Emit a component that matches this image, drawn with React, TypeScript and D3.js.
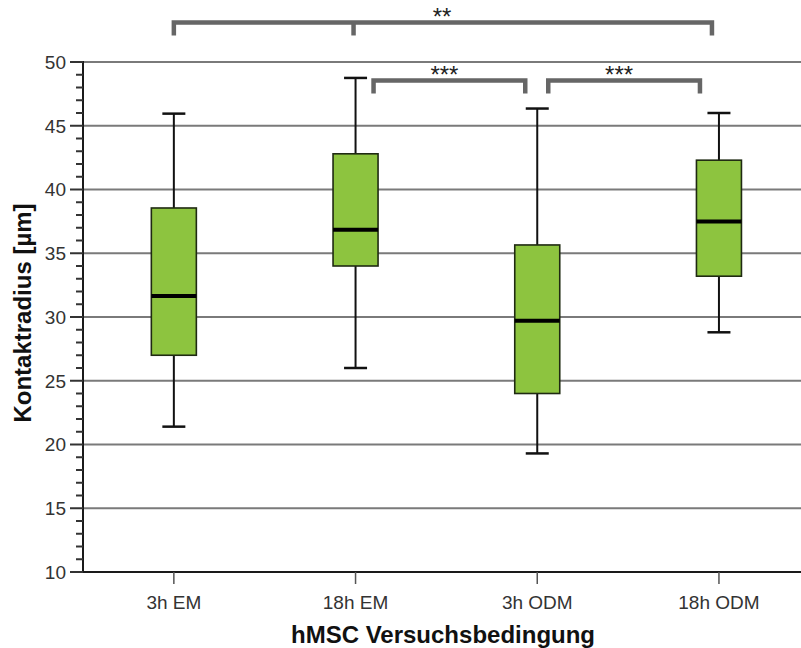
import React from "react";
import * as d3 from "d3";

// Contact radius per hMSC condition (µm): box-plot five-number summaries
const categories = ["3h EM", "18h EM", "3h ODM", "18h ODM"];
const whiskerLow = [21.4, 26.0, 19.3, 28.8];
const quartile1 = [27.0, 34.0, 24.0, 33.2];
const medians = [31.65, 36.85, 29.7, 37.5];
const quartile3 = [38.55, 42.8, 35.65, 42.3];
const whiskerHigh = [45.95, 48.75, 46.35, 46.0];

const yTicks = [10, 15, 20, 25, 30, 35, 40, 45, 50];
const yMinorTicks = d3.range(10, 51, 1).filter((v) => v % 5 !== 0);

// Significance brackets between conditions
const sigFrom = ["3h EM", "18h EM", "3h ODM"];
const sigTo = ["18h ODM", "3h ODM", "18h ODM"];
const sigMid = ["18h EM", "", ""];
const sigLabel = ["**", "***", "***"];
const sigLevel = [53.1, 48.55, 48.55];

const W = 801;
const H = 648;
const left = 83;
const top = 62;
const bottom = 572;
const font = "'Liberation Sans', Arial, sans-serif";

export default function App() {
  const x = d3
    .scaleBand<string>()
    .domain(categories)
    .range([left, left + 4 * 181.7])
    .padding(0);
  const cx = (c: string) => (x(c) as number) + x.bandwidth() / 2;
  const y = d3.scaleLinear().domain([10, 50]).range([bottom, top]);

  const boxW = 45;
  const capW = 23;

  // bracket end offsets relative to category centres
  const bracketEnds = [
    [0, -7],
    [18, -12],
    [11, -19],
  ];

  return (
    <svg
      width={W}
      height={H}
      style={{ position: "absolute", left: 0, top: 0, background: "#fff" }}
      fontFamily={font}
    >
      {/* horizontal grid */}
      {yTicks
        .filter((v) => v > 10)
        .map((v) => (
          <line
            key={"g" + v}
            x1={left}
            x2={W}
            y1={y(v)}
            y2={y(v)}
            stroke="#7a7a7a"
            strokeWidth={2}
          />
        ))}

      {/* y axis */}
      <line x1={left} x2={left} y1={top - 1} y2={bottom + 1} stroke="#1a1a1a" strokeWidth={2} />
      {yTicks.map((v) => (
        <g key={"t" + v}>
          <line x1={70} x2={left} y1={y(v)} y2={y(v)} stroke="#333" strokeWidth={2} />
          <text
            x={66}
            y={y(v)}
            dy="0.36em"
            textAnchor="end"
            fontSize={19}
            fill="#333"
          >
            {v}
          </text>
        </g>
      ))}
      {yMinorTicks.map((v) => (
        <line key={"m" + v} x1={76} x2={left} y1={y(v)} y2={y(v)} stroke="#333" strokeWidth={2} />
      ))}

      {/* x axis */}
      <line x1={left} x2={W} y1={bottom} y2={bottom} stroke="#1a1a1a" strokeWidth={2} />
      {categories.map((c) => (
        <g key={"x" + c}>
          <line x1={cx(c)} x2={cx(c)} y1={bottom} y2={bottom + 12} stroke="#555" strokeWidth={1.5} />
          <text x={cx(c)} y={609} textAnchor="middle" fontSize={19} fill="#333">
            {c}
          </text>
        </g>
      ))}

      {/* boxes */}
      {categories.map((c, i) => {
        const xc = cx(c);
        return (
          <g key={"b" + c}>
            <line x1={xc} x2={xc} y1={y(whiskerHigh[i])} y2={y(quartile3[i])} stroke="#111" strokeWidth={2} />
            <line x1={xc} x2={xc} y1={y(quartile1[i])} y2={y(whiskerLow[i])} stroke="#111" strokeWidth={2} />
            <line
              x1={xc - capW / 2}
              x2={xc + capW / 2}
              y1={y(whiskerHigh[i])}
              y2={y(whiskerHigh[i])}
              stroke="#111"
              strokeWidth={2.5}
            />
            <line
              x1={xc - capW / 2}
              x2={xc + capW / 2}
              y1={y(whiskerLow[i])}
              y2={y(whiskerLow[i])}
              stroke="#111"
              strokeWidth={2.5}
            />
            <rect
              x={xc - boxW / 2}
              y={y(quartile3[i])}
              width={boxW}
              height={y(quartile1[i]) - y(quartile3[i])}
              fill="#8dc43f"
              stroke="#1f2a12"
              strokeWidth={1.6}
            />
            <line
              x1={xc - boxW / 2}
              x2={xc + boxW / 2}
              y1={y(medians[i])}
              y2={y(medians[i])}
              stroke="#000"
              strokeWidth={4}
            />
          </g>
        );
      })}

      {/* significance brackets */}
      {sigLabel.map((lab, i) => {
        const x1 = cx(sigFrom[i]) + bracketEnds[i][0];
        const x2 = cx(sigTo[i]) + bracketEnds[i][1];
        const ly = y(sigLevel[i]);
        const drop = 13;
        const col = "#666";
        const labelX = i === 0 ? 442 : (x1 + x2) / 2 - 5;
        return (
          <g key={"s" + i}>
            <path
              d={`M${x1},${ly + drop} V${ly} H${x2} V${ly + drop}`}
              fill="none"
              stroke={col}
              strokeWidth={4.5}
            />
            {sigMid[i] && (
              <line
                x1={cx(sigMid[i]) - 2}
                x2={cx(sigMid[i]) - 2}
                y1={ly}
                y2={ly + drop}
                stroke={col}
                strokeWidth={4.5}
              />
            )}
            <text x={labelX} y={ly + 3} textAnchor="middle" fontSize={24} fill="#222">
              {lab}
            </text>
          </g>
        );
      })}

      {/* axis titles */}
      <text x={443} y={643} textAnchor="middle" fontSize={24} fontWeight="bold" fill="#111">
        hMSC Versuchsbedingung
      </text>
      <text
        transform={`translate(31,313) rotate(-90)`}
        textAnchor="middle"
        fontSize={24}
        fontWeight="bold"
        fill="#111"
      >
        Kontaktradius [µm]
      </text>
    </svg>
  );
}
